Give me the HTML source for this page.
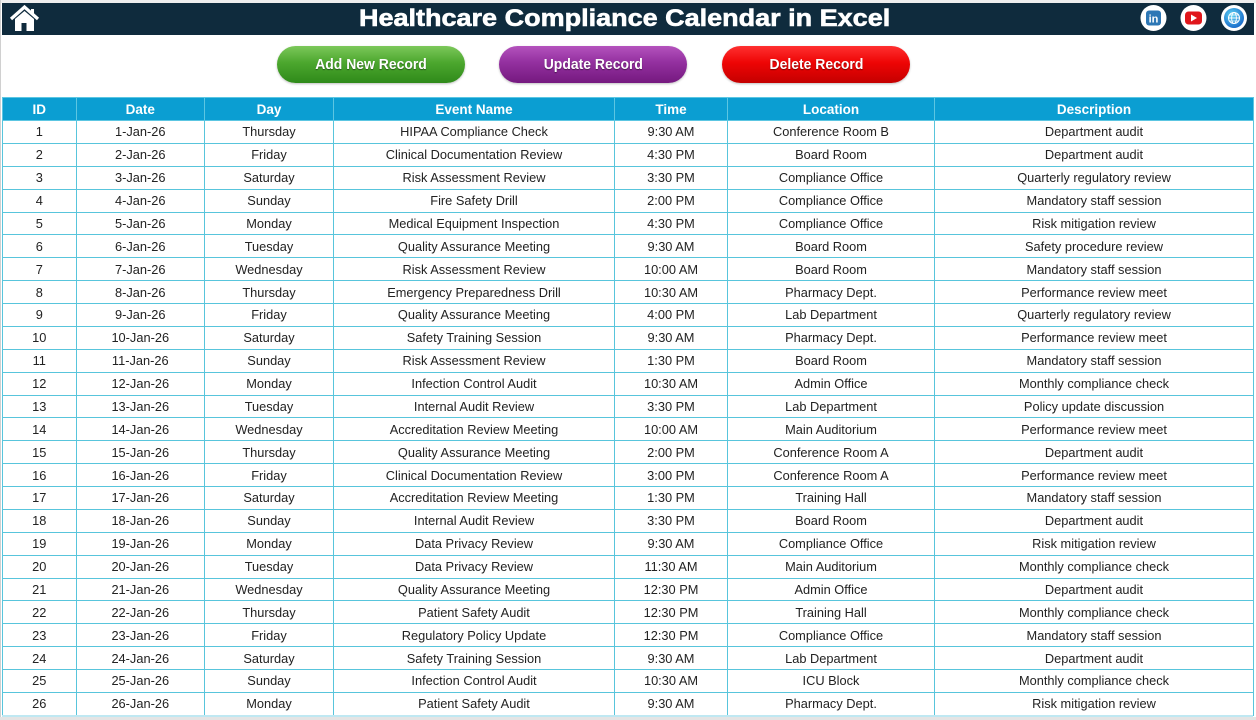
<!DOCTYPE html>
<html><head><meta charset="utf-8">
<style>
html,body{margin:0;padding:0;width:1256px;height:720px;overflow:hidden;background:#fff;font-family:"Liberation Sans",Arial,sans-serif;}
.topstrip{position:absolute;left:0;top:0;width:1256px;height:3px;background:#eeeeee;}
.leftline{position:absolute;left:0;top:0;width:1px;height:720px;background:#d0d0d0;}
.band{position:absolute;left:2px;top:3px;width:1252px;height:32px;background:#0f2b3d;}
.title{position:absolute;left:359px;top:5px;height:28px;line-height:28px;font-size:24px;font-weight:bold;color:#fff;white-space:nowrap;transform:scaleX(1.125);transform-origin:left center;-webkit-text-stroke:0.6px #fff;}
.btn{position:absolute;top:46px;width:188px;height:37px;border-radius:19px;color:#fff;font-weight:bold;font-size:15px;line-height:37px;text-align:center;text-shadow:0 1px 1px rgba(0,0,0,0.45);box-shadow:0 1px 2px rgba(0,0,0,0.25);}
.btn span{display:inline-block;transform:scaleX(0.93);}
.g{left:277px;background:linear-gradient(to bottom,#7cc85a 0%,#4ca72e 45%,#2f8a1a 100%);}
.p{left:499px;background:linear-gradient(to bottom,#b452bd 0%,#93309f 45%,#75197f 100%);}
.r{left:722px;background:linear-gradient(to bottom,#ff3030 0%,#ee0505 45%,#c40000 100%);}
table{position:absolute;left:2px;top:97px;width:1251px;table-layout:fixed;border-collapse:collapse;}
td,th{border:1px solid #58c5dc;padding:0;text-align:center;vertical-align:middle;white-space:nowrap;overflow:hidden;}
th{background:#0b9ed2;color:#fff;font-weight:bold;font-size:13.5px;border-color:#5cc6e2;}
td{font-size:12.8px;color:#222;}
tr.h{height:23px;}
tr.d{height:22.88px;}
.bot1{position:absolute;left:2px;top:715px;width:1251px;height:2px;background:#bfe8f2;}
.bot2{position:absolute;left:0;top:717px;width:1256px;height:3px;background:#e4e4e4;}
</style></head><body>
<div class="topstrip"></div>
<div class="leftline"></div>
<div class="band"></div>
<svg style="position:absolute;left:0;top:0" width="60" height="40" viewBox="0 0 60 40">
  <polyline points="11,19 24.5,7 38,19" fill="none" stroke="#fff" stroke-width="3.2" stroke-linejoin="miter"/>
  <path d="M15,19 L24.5,11 L34,19 L34,31 L15,31 Z" fill="#fff"/>
  <rect x="21.5" y="23" width="5" height="8" fill="#0f2b3d"/>
  <rect x="31" y="9" width="3" height="6" fill="#fff"/>
</svg>
<div class="title">Healthcare Compliance Calendar in Excel</div>
<svg style="position:absolute;left:1130px;top:0" width="126" height="36" viewBox="0 0 126 36">
  <circle cx="23.5" cy="18" r="13" fill="#fff"/>
  <rect x="16" y="10.5" width="15" height="15" rx="3" fill="#2d77b5"/>
  <text x="23.5" y="22.5" font-family="Liberation Sans,Arial,sans-serif" font-weight="bold" font-size="11" fill="#fff" text-anchor="middle">in</text>
  <circle cx="63.5" cy="18" r="13" fill="#fff"/>
  <rect x="55" y="11.5" width="17" height="13" rx="3.5" fill="#e0161b"/>
  <polygon points="61,14.5 61,21.5 67,18" fill="#fff"/>
  <circle cx="104" cy="18" r="13" fill="#fff"/>
  <defs><radialGradient id="gg" cx="0.4" cy="0.35" r="0.7"><stop offset="0" stop-color="#5fd6f5"/><stop offset="1" stop-color="#1565c8"/></radialGradient></defs>
  <circle cx="104" cy="18" r="10" fill="url(#gg)"/>
  <circle cx="104" cy="18" r="5.5" fill="none" stroke="#fff" stroke-width="1"/>
  <ellipse cx="104" cy="18" rx="2.4" ry="5.5" fill="none" stroke="#fff" stroke-width="0.9"/>
  <line x1="98.5" y1="18" x2="109.5" y2="18" stroke="#fff" stroke-width="0.9"/>
  <line x1="99.5" y1="15" x2="108.5" y2="15" stroke="#fff" stroke-width="0.7"/>
  <line x1="99.5" y1="21" x2="108.5" y2="21" stroke="#fff" stroke-width="0.7"/>
</svg>
<div class="btn g"><span>Add New Record</span></div>
<div class="btn p"><span>Update Record</span></div>
<div class="btn r"><span>Delete Record</span></div>
<table>
<colgroup><col style="width:73.5px"><col style="width:128.5px"><col style="width:129px"><col style="width:281px"><col style="width:113px"><col style="width:207px"><col style="width:319px"></colgroup>
<tr class="h"><th>ID</th><th>Date</th><th>Day</th><th>Event Name</th><th>Time</th><th>Location</th><th>Description</th></tr>
<tr class="d"><td>1</td><td>1-Jan-26</td><td>Thursday</td><td>HIPAA Compliance Check</td><td>9:30 AM</td><td>Conference Room B</td><td>Department audit</td></tr>
<tr class="d"><td>2</td><td>2-Jan-26</td><td>Friday</td><td>Clinical Documentation Review</td><td>4:30 PM</td><td>Board Room</td><td>Department audit</td></tr>
<tr class="d"><td>3</td><td>3-Jan-26</td><td>Saturday</td><td>Risk Assessment Review</td><td>3:30 PM</td><td>Compliance Office</td><td>Quarterly regulatory review</td></tr>
<tr class="d"><td>4</td><td>4-Jan-26</td><td>Sunday</td><td>Fire Safety Drill</td><td>2:00 PM</td><td>Compliance Office</td><td>Mandatory staff session</td></tr>
<tr class="d"><td>5</td><td>5-Jan-26</td><td>Monday</td><td>Medical Equipment Inspection</td><td>4:30 PM</td><td>Compliance Office</td><td>Risk mitigation review</td></tr>
<tr class="d"><td>6</td><td>6-Jan-26</td><td>Tuesday</td><td>Quality Assurance Meeting</td><td>9:30 AM</td><td>Board Room</td><td>Safety procedure review</td></tr>
<tr class="d"><td>7</td><td>7-Jan-26</td><td>Wednesday</td><td>Risk Assessment Review</td><td>10:00 AM</td><td>Board Room</td><td>Mandatory staff session</td></tr>
<tr class="d"><td>8</td><td>8-Jan-26</td><td>Thursday</td><td>Emergency Preparedness Drill</td><td>10:30 AM</td><td>Pharmacy Dept.</td><td>Performance review meet</td></tr>
<tr class="d"><td>9</td><td>9-Jan-26</td><td>Friday</td><td>Quality Assurance Meeting</td><td>4:00 PM</td><td>Lab Department</td><td>Quarterly regulatory review</td></tr>
<tr class="d"><td>10</td><td>10-Jan-26</td><td>Saturday</td><td>Safety Training Session</td><td>9:30 AM</td><td>Pharmacy Dept.</td><td>Performance review meet</td></tr>
<tr class="d"><td>11</td><td>11-Jan-26</td><td>Sunday</td><td>Risk Assessment Review</td><td>1:30 PM</td><td>Board Room</td><td>Mandatory staff session</td></tr>
<tr class="d"><td>12</td><td>12-Jan-26</td><td>Monday</td><td>Infection Control Audit</td><td>10:30 AM</td><td>Admin Office</td><td>Monthly compliance check</td></tr>
<tr class="d"><td>13</td><td>13-Jan-26</td><td>Tuesday</td><td>Internal Audit Review</td><td>3:30 PM</td><td>Lab Department</td><td>Policy update discussion</td></tr>
<tr class="d"><td>14</td><td>14-Jan-26</td><td>Wednesday</td><td>Accreditation Review Meeting</td><td>10:00 AM</td><td>Main Auditorium</td><td>Performance review meet</td></tr>
<tr class="d"><td>15</td><td>15-Jan-26</td><td>Thursday</td><td>Quality Assurance Meeting</td><td>2:00 PM</td><td>Conference Room A</td><td>Department audit</td></tr>
<tr class="d"><td>16</td><td>16-Jan-26</td><td>Friday</td><td>Clinical Documentation Review</td><td>3:00 PM</td><td>Conference Room A</td><td>Performance review meet</td></tr>
<tr class="d"><td>17</td><td>17-Jan-26</td><td>Saturday</td><td>Accreditation Review Meeting</td><td>1:30 PM</td><td>Training Hall</td><td>Mandatory staff session</td></tr>
<tr class="d"><td>18</td><td>18-Jan-26</td><td>Sunday</td><td>Internal Audit Review</td><td>3:30 PM</td><td>Board Room</td><td>Department audit</td></tr>
<tr class="d"><td>19</td><td>19-Jan-26</td><td>Monday</td><td>Data Privacy Review</td><td>9:30 AM</td><td>Compliance Office</td><td>Risk mitigation review</td></tr>
<tr class="d"><td>20</td><td>20-Jan-26</td><td>Tuesday</td><td>Data Privacy Review</td><td>11:30 AM</td><td>Main Auditorium</td><td>Monthly compliance check</td></tr>
<tr class="d"><td>21</td><td>21-Jan-26</td><td>Wednesday</td><td>Quality Assurance Meeting</td><td>12:30 PM</td><td>Admin Office</td><td>Department audit</td></tr>
<tr class="d"><td>22</td><td>22-Jan-26</td><td>Thursday</td><td>Patient Safety Audit</td><td>12:30 PM</td><td>Training Hall</td><td>Monthly compliance check</td></tr>
<tr class="d"><td>23</td><td>23-Jan-26</td><td>Friday</td><td>Regulatory Policy Update</td><td>12:30 PM</td><td>Compliance Office</td><td>Mandatory staff session</td></tr>
<tr class="d"><td>24</td><td>24-Jan-26</td><td>Saturday</td><td>Safety Training Session</td><td>9:30 AM</td><td>Lab Department</td><td>Department audit</td></tr>
<tr class="d"><td>25</td><td>25-Jan-26</td><td>Sunday</td><td>Infection Control Audit</td><td>10:30 AM</td><td>ICU Block</td><td>Monthly compliance check</td></tr>
<tr class="d"><td>26</td><td>26-Jan-26</td><td>Monday</td><td>Patient Safety Audit</td><td>9:30 AM</td><td>Pharmacy Dept.</td><td>Risk mitigation review</td></tr>
</table>
<div class="bot1"></div>
<div class="bot2"></div>
</body></html>
